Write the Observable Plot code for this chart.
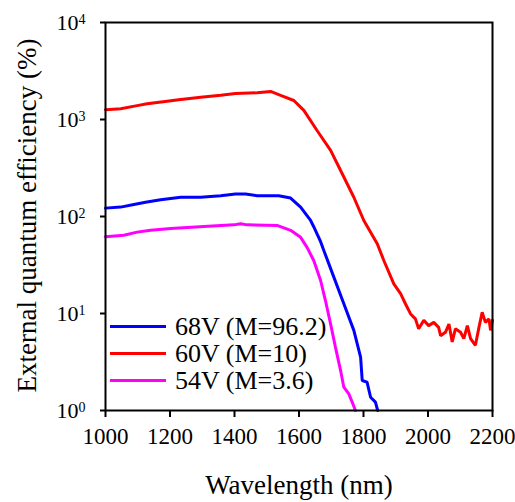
<!DOCTYPE html>
<html><head><meta charset="utf-8">
<script src="https://cdn.jsdelivr.net/npm/d3@7"></script>
<script src="https://cdn.jsdelivr.net/npm/@observablehq/plot@0.6"></script>
<style>
body{margin:0;background:#fff;}
#wrap{position:relative;width:515px;height:502px;font-family:"Liberation Serif","Times New Roman",Times,"DejaVu Serif","Noto Serif",serif;}
#wrap svg text{font-family:"Liberation Serif","Times New Roman",Times,"DejaVu Serif","Noto Serif",serif;}
#legend{position:absolute;left:110px;top:313px;}
.row{height:27px;display:flex;align-items:center;font-size:26px;color:#000;white-space:nowrap;}
.sw{width:56px;height:3px;margin-right:9px;}
</style></head><body><div id="wrap"></div>
<script>
// 68V (M=96.2)
const wl68  = [1000,1047,1088,1124,1171,1233,1295,1357,1403,1434,1470,1537,1574,1605,1636,1646,1667,1677,1708,1739,1770,1791,1796,1811,1822,1837,1844];
const eqe68 = [122,125,133,140,149,158,158,164,171,171,164,164,155,125,91,78,55,44.6,23.7,12.6,6.7,3.55,2.04,1.96,1.37,1.22,1.0];
// 60V (M=10)
const wl60  = [1000,1047,1098,1129,1191,1227,1295,1357,1403,1470,1512,1543,1584,1615,1656,1698,1729,1770,1801,1843,1863,1894,1915,1930,1946,1961,1971,1987,2002,2018,2033,2039,2054,2065,2075,2085,2101,2111,2122,2132,2147,2158,2168,2178,2189,2194,2200];
const eqe60 = [1260,1290,1390,1450,1545,1600,1700,1780,1850,1885,1945,1770,1570,1240,770,480,298,158,91,52,35.2,20.2,16.0,12.6,9.9,8.8,6.95,8.5,7.5,8.1,7.2,5.9,6.4,7.8,5.1,6.95,6.4,5.5,7.5,5.5,4.7,7.2,10.3,8.1,8.8,6.7,8.5];
// 54V (M=3.6)
const wl54  = [1000,1057,1098,1140,1202,1305,1398,1419,1439,1532,1574,1605,1625,1646,1667,1682,1698,1713,1729,1739,1754,1765,1775];
const eqe54 = [62,64,69,72,75,79,82,84,82,81,72,61,48,35,21.9,13.6,7.8,4.5,2.58,1.74,1.49,1.22,1.0];

const seriesNames  = ["68V (M=96.2)", "60V (M=10)", "54V (M=3.6)"];
const seriesColors = ["#0000ff", "#ff0000", "#ff00ff"];
const seriesWl  = [wl68, wl60, wl54];
const seriesEqe = [eqe68, eqe60, eqe54];

const xTicks = [1000,1200,1400,1600,1800,2000,2200];
const yTicks = [1,10,100,1000,10000];
const yTickExp = ["0","1","2","3","4"];
const xLabel = "Wavelength (nm)";
const yLabel = "External quantum efficiency (%)";

const FONT = "'Liberation Serif', 'Times New Roman', Times, 'DejaVu Serif', serif";

const lines = seriesNames.map((name, k) =>
  Plot.line(seriesWl[k].map((w, i) => ({w, v: seriesEqe[k][i]})),
    {x: "w", y: "v", stroke: seriesColors[k], strokeWidth: 3, strokeLinejoin: "miter"}));

const chart = Plot.plot({
  width: 515, height: 502,
  marginLeft: 105, marginRight: 23, marginTop: 22, marginBottom: 92,
  style: {fontFamily: FONT, color: "#000", background: "#fff", overflow: "visible"},
  x: {domain: [1000, 2200]},
  y: {type: "log", domain: [1, 10000]},
  marks: [
    Plot.axisX({ticks: xTicks, tickSize: 7, tickPadding: 10, fontSize: 23, strokeWidth: 2, label: null, tickFormat: d => String(d)}),
    Plot.axisY({ticks: yTicks, tickSize: 5, tickPadding: 15, fontSize: 22, strokeWidth: 2, label: null,
      tickFormat: d => "10" + yTickExp[yTicks.indexOf(d)]}),
    ...lines,
    Plot.frame({stroke: "#000", strokeWidth: 2}),
    Plot.text([xLabel], {frameAnchor: "bottom", textAnchor: "middle", lineAnchor: "bottom", dy: 83, fontSize: 27, text: d => d}),
    Plot.text([yLabel], {frameAnchor: "left", textAnchor: "middle", rotate: -90, lineAnchor: "bottom", dx: -70, dy: -1, fontSize: 27, text: d => d})
  ]
});

// superscript exponents on y tick labels
const NS = "http://www.w3.org/2000/svg";
chart.querySelectorAll('g[aria-label="y-axis tick label"] text').forEach(t => {
  const s = t.textContent;
  t.textContent = "";
  const base = document.createElementNS(NS, "tspan");
  base.textContent = s.slice(0, 2);
  const sup = document.createElementNS(NS, "tspan");
  sup.textContent = s.slice(2);
  sup.setAttribute("font-size", "14");
  sup.setAttribute("dy", "-6");
  t.append(base, sup);
});

const wrap = document.getElementById("wrap");
wrap.appendChild(chart);

const legend = document.createElement("div");
legend.id = "legend";
seriesNames.forEach((name, k) => {
  const row = document.createElement("div");
  row.className = "row";
  const sw = document.createElement("span");
  sw.className = "sw";
  sw.style.background = seriesColors[k];
  const label = document.createElement("span");
  label.textContent = name;
  row.append(sw, label);
  legend.appendChild(row);
});
wrap.appendChild(legend);
</script></body></html>
